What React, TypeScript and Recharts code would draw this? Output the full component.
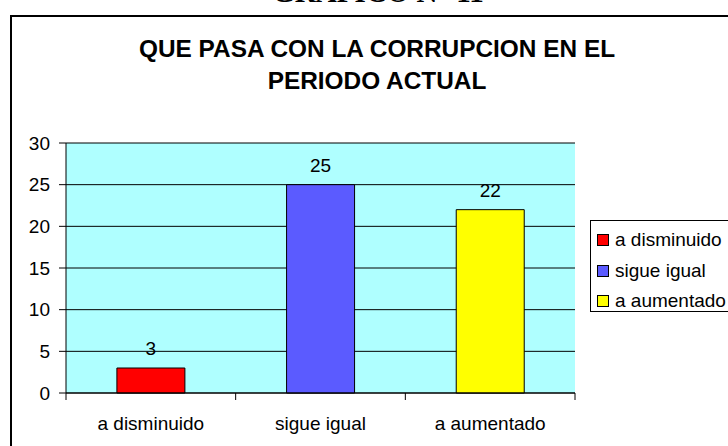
import React from "react";
import {
  BarChart,
  Bar,
  XAxis,
  YAxis,
  CartesianGrid,
  Legend,
  LabelList,
  Cell,
} from "recharts";

const categories = ["a disminuido", "sigue igual", "a aumentado"];
const values = [3, 25, 22];
const barColors = ["#ff0000", "#5b5bff", "#ffff00"];
const yTicks = [0, 5, 10, 15, 20, 25, 30];

const FONT = "'Liberation Sans', Arial, sans-serif";

const data = categories.map((name, i) => ({ name, value: values[i] }));

// category label plus the Excel-style tick marks between categories
function CategoryTick(props: any) {
  const { x, y, payload, index, width, visibleTicksCount } = props;
  const half =
    payload && payload.offset ? payload.offset : width / (2 * (visibleTicksCount || 3));
  return (
    <g>
      {index === 0 && <line x1={x - half} x2={x - half} y1={y} y2={y + 7} stroke="#000" />}
      <line x1={x + half} x2={x + half} y1={y} y2={y + 7} stroke="#000" />
      <text
        x={x}
        y={y + 37}
        textAnchor="middle"
        fill="#000"
        fontSize={19}
        fontFamily={FONT}
      >
        {payload.value}
      </text>
    </g>
  );
}

function LegendBox() {
  return (
    <div
      style={{
        border: "1px solid #000",
        background: "#fff",
        width: 140,
        height: 92,
        boxSizing: "border-box",
        paddingTop: 4,
        fontFamily: FONT,
        fontSize: 19,
        color: "#000",
      }}
    >
      {categories.map((c, i) => (
        <div
          key={c}
          style={{ display: "flex", alignItems: "center", height: 30.5, whiteSpace: "nowrap" }}
        >
          <span
            style={{
              display: "inline-block",
              width: 10,
              height: 10,
              border: "1px solid #000",
              background: barColors[i],
              marginLeft: 6,
              marginRight: 6,
            }}
          />
          {c}
        </div>
      ))}
    </div>
  );
}

export default function App() {
  return (
    <div
      style={{
        position: "absolute",
        left: 0,
        top: 0,
        width: 728,
        height: 446,
        overflow: "hidden",
        background: "#fff",
      }}
    >
      {/* cropped page heading above the chart */}
      <svg width={728} height={20} style={{ position: "absolute", left: 0, top: 0 }}>
        <text
          x={378}
          y={1.5}
          textAnchor="middle"
          fontFamily="'Liberation Serif', 'Times New Roman', serif"
          fontWeight="bold"
          fontSize={29}
        >
          GRAFICO N° 11
        </text>
      </svg>
      {/* chart frame */}
      <div
        style={{
          position: "absolute",
          left: 10,
          top: 15,
          width: 800,
          height: 500,
          border: "2px solid #000",
        }}
      />
      <div
        style={{
          position: "absolute",
          left: 0,
          top: 33,
          width: 754,
          textAlign: "center",
          fontFamily: FONT,
          fontWeight: "bold",
          fontSize: 24.4,
          lineHeight: "32px",
          color: "#000",
        }}
      >
        QUE PASA CON LA CORRUPCION EN EL
        <br />
        PERIODO ACTUAL
      </div>
      <div style={{ position: "absolute", left: 0, top: 0 }}>
        <BarChart
          width={760}
          height={446}
          data={data}
          margin={{ top: 143, right: 185, bottom: 0, left: 16 }}
          barCategoryGap="30%"
        >
          <CartesianGrid
            vertical={false}
            stroke="#000"
            fill="#afffff"
            fillOpacity={1}
          />
          <XAxis
            dataKey="name"
            height={53}
            tickLine={false}
            tickSize={0}
            tickMargin={0}
            axisLine={{ stroke: "#000" }}
            tick={<CategoryTick />}
            interval={0}
          />
          <YAxis
            width={50}
            domain={[0, 30]}
            ticks={yTicks}
            interval={0}
            axisLine={{ stroke: "#000" }}
            tickLine={{ stroke: "#000" }}
            tickSize={7}
            tickMargin={9}
            tick={{ fill: "#000", fontSize: 19, fontFamily: FONT }}
          />
          <YAxis
            yAxisId="right"
            orientation="right"
            width={0}
            domain={[0, 30]}
            tick={false}
            tickLine={false}
            axisLine={{ stroke: "#808080" }}
          />
          <Legend
            layout="horizontal"
            verticalAlign="middle"
            align="center"
            wrapperStyle={{ position: "absolute", left: 590, top: 220, width: 140 }}
            content={() => <LegendBox />}
          />
          <Bar dataKey="value" stroke="#000" strokeWidth={1} isAnimationActive={false}>
            {data.map((d, i) => (
              <Cell key={d.name} fill={barColors[i]} />
            ))}
            <LabelList
              dataKey="value"
              position="top"
              offset={13}
              fill="#000"
              fontSize={19}
              fontFamily={FONT}
            />
          </Bar>
        </BarChart>
      </div>
    </div>
  );
}
